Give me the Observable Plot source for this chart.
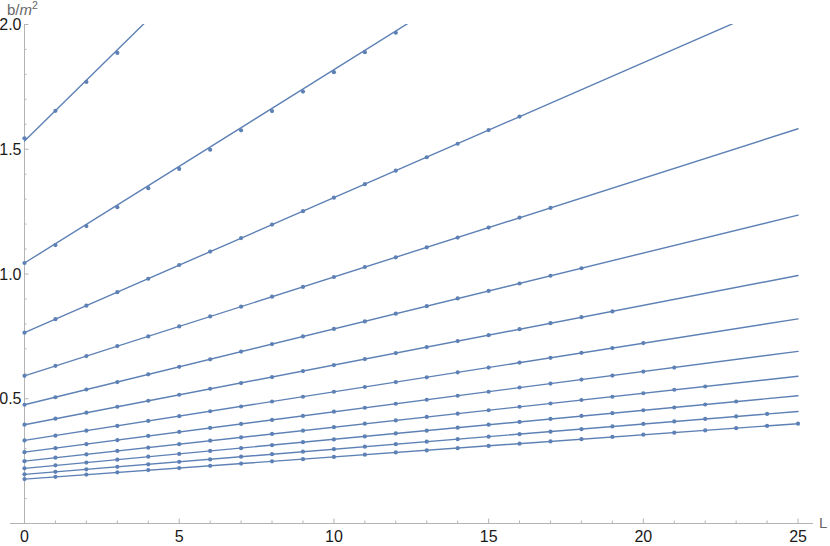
<!DOCTYPE html>
<html>
<head>
<meta charset="utf-8">
<script src="https://cdn.jsdelivr.net/npm/d3@7"></script>
<script src="https://cdn.jsdelivr.net/npm/@observablehq/plot@0.6"></script>
<style>
  html, body { margin: 0; padding: 0; background: #fff; }
  #chart svg { display: block; }
</style>
</head>
<body>
<div id="chart"></div>
<script>
// Data points b/m^2 at L = 0,1,2,... for each series (bottom series first)
const s0 = [0.178,0.187,0.196,0.205,0.214,0.222,0.231,0.240,0.249,0.258,0.267,0.276,0.285,0.293,0.302,0.311,0.320,0.329,0.338,0.347,0.356,0.364,0.373,0.382,0.391,0.400];
const s1 = [0.197,0.207,0.217,0.227,0.237,0.247,0.257,0.268,0.278,0.288,0.298,0.308,0.318,0.328,0.338,0.348,0.358,0.368,0.378,0.389,0.399,0.409,0.419,0.429,0.439];
const s2 = [0.221,0.233,0.244,0.256,0.268,0.279,0.291,0.302,0.314,0.326,0.337,0.349,0.361,0.372,0.384,0.396,0.407,0.419,0.431,0.442,0.454,0.465,0.477,0.489];
const s3 = [0.250,0.264,0.277,0.291,0.304,0.318,0.332,0.345,0.359,0.372,0.386,0.400,0.413,0.427,0.440,0.454,0.468,0.481,0.495,0.508,0.522,0.536,0.549];
const s4 = [0.286,0.302,0.318,0.334,0.351,0.367,0.383,0.399,0.415,0.431,0.448,0.464,0.480,0.496,0.512,0.528,0.545,0.561,0.577,0.593,0.609,0.625];
const s5 = [0.333,0.352,0.372,0.391,0.411,0.430,0.450,0.469,0.489,0.508,0.528,0.547,0.567,0.586,0.606,0.625,0.645,0.664,0.684,0.703,0.723];
const s6 = [0.396,0.420,0.444,0.468,0.492,0.516,0.540,0.563,0.587,0.611,0.635,0.659,0.683,0.707,0.731,0.755,0.779,0.803,0.827,0.850];
const s7 = [0.476,0.506,0.537,0.567,0.598,0.628,0.658,0.689,0.719,0.750,0.780,0.810,0.841,0.871,0.902,0.932,0.962,0.993,1.023];
const s8 = [0.592,0.632,0.671,0.711,0.750,0.790,0.830,0.869,0.909,0.948,0.988,1.028,1.067,1.107,1.146,1.186,1.226,1.265];
const s9 = [0.765,0.819,0.873,0.927,0.981,1.036,1.090,1.144,1.198,1.252,1.306,1.360,1.414,1.468,1.522,1.577,1.631];
const s10 = [1.044,1.116,1.192,1.268,1.344,1.421,1.498,1.576,1.653,1.731,1.809,1.889,1.967];
const s11 = [1.544,1.654,1.770,1.886];
const seriesPoints = [s0,s1,s2,s3,s4,s5,s6,s7,s8,s9,s10,s11];

// Fitted straight lines (value at L = 0 and slope per unit L), same order
const fitIntercept = [0.178,0.197,0.221,0.250,0.286,0.333,0.396,0.476,0.592,0.765,1.044,1.533];
const fitSlope     = [0.00888,0.01008,0.01164,0.0136,0.01616,0.01948,0.02392,0.0304,0.0396,0.0541,0.0775,0.1218];
const fitRange = [0, 25];

// Ticks
const xMajor = [0,5,10,15,20,25];
const xMinor = d3.range(0, 26).filter(v => v % 5 !== 0);
const yMajor = [0.5,1.0,1.5,2.0];
const yMinor = [0.1,0.2,0.3,0.4,0.6,0.7,0.8,0.9,1.1,1.2,1.3,1.4,1.6,1.7,1.8,1.9];

const points = seriesPoints.flatMap((arr, s) => arr.map((v, L) => ({s, L, v})));
const lines = fitIntercept.flatMap((a, s) => fitRange.map(L => ({s, L, v: a + fitSlope[s] * L})));

const W = 830, H = 546;
const mT = 24, mB = 23, mL = 10, mR = 17;
const fw = W - mL - mR, fh = H - mT - mB;
const blue = "#5e81b5";
const axisGray = "#b4b4b4";
const font = "Liberation Sans, Arial, sans-serif";

const chart = Plot.plot({
  width: W, height: H,
  marginTop: mT, marginBottom: mB, marginLeft: mL, marginRight: mR,
  x: {domain: [-0.4525, 25.5], axis: null},
  y: {domain: [0, 2], axis: null},
  style: {fontFamily: font, background: "#fff"},
  marks: [
    Plot.ruleY([0], {stroke: axisGray, strokeWidth: 1}),
    Plot.ruleX([0], {y1: 0, y2: 2, stroke: axisGray, strokeWidth: 1}),
    Plot.tickX(xMajor, {x: d => d, stroke: axisGray, insetTop: fh - 4.5}),
    Plot.tickX(xMinor, {x: d => d, stroke: axisGray, insetTop: fh - 2.5}),
    Plot.tickY(yMajor, {y: d => d, stroke: axisGray, insetLeft: 14, insetRight: fw - 14 - 4.5}),
    Plot.tickY(yMinor, {y: d => d, stroke: axisGray, insetLeft: 14, insetRight: fw - 14 - 2.5}),
    Plot.text(xMajor, {x: d => d, y: 0, text: d => String(d), lineAnchor: "top", dy: 7, fontSize: 16, fill: "#1a1a1a"}),
    Plot.text(yMajor, {x: 0, y: d => d, text: d => d.toFixed(1), textAnchor: "end", lineAnchor: "middle", dx: -3, dy: 0.5, fontSize: 16, fill: "#1a1a1a"}),
    Plot.line(lines, {x: "L", y: "v", z: "s", stroke: blue, strokeWidth: 1.4, clip: true}),
    Plot.dot(points, {x: "L", y: "v", r: 2.1, fill: blue, stroke: "none", clip: true})
  ]
});

const svg = d3.select(chart);
// y-axis label b/m^2
const yl = svg.append("text")
  .attr("x", 7).attr("y", 14.5)
  .attr("text-anchor", "start")
  .attr("fill", "#666").attr("font-size", 15).attr("font-family", font);
yl.append("tspan").text("b/");
yl.append("tspan").attr("font-style", "italic").text("m");
yl.append("tspan").attr("font-size", 10.5).attr("dy", -6).text("2");
// x-axis label L
svg.append("text")
  .attr("x", 819).attr("y", 528)
  .attr("text-anchor", "start")
  .attr("fill", "#666").attr("font-size", 15).attr("font-family", font)
  .text("L");

document.getElementById("chart").appendChild(chart);
</script>
</body>
</html>
